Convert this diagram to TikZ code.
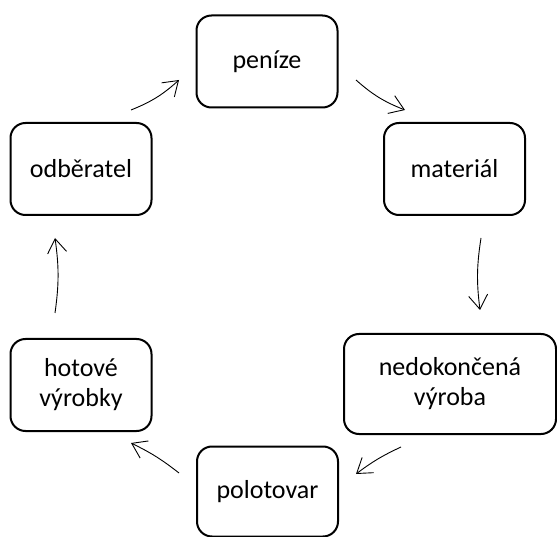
\documentclass[tikz,border=0pt]{standalone}
\usepackage{fontspec}
\setmainfont{Carlito}
\usepackage{tikz}
\usetikzlibrary{arrows.meta}

\begin{document}
\begin{tikzpicture}[
  x=1pt, y=-1pt,
  every node/.style={font=\fontsize{26}{30}\selectfont},
  stav/.style={draw, line width=2pt, rounded corners=15pt, align=center, inner sep=0pt,
    minimum width=141pt, minimum height=92pt},
  tok/.style={-{Straight Barb[length=14pt, width=19pt]}, line width=0.9pt}
]

\useasboundingbox (0,0) rectangle (557,537);

\node[stav] (penize) at (267,61.5) {peníze};
\node[stav] (material) at (454.5,169) {materiál};
\node[stav, minimum width=212pt, minimum height=100pt] (nedokoncena) at (450,384) {nedokončená\\výroba};
\node[stav, minimum height=90pt] (polotovar) at (267.5,491.5) {polotovar};
\node[stav] (hotove) at (81,385) {hotové\\výrobky};
\node[stav] (odberatel) at (81,169) {odběratel};

% konce sipek (mezi boxy)
\coordinate (odb-out) at (131,110);
\coordinate (pen-in) at (179,80);
\coordinate (pen-out) at (356,80);
\coordinate (mat-in) at (405,110);
\coordinate (mat-out) at (481,238);
\coordinate (ned-in) at (480,310);
\coordinate (ned-out) at (401,447);
\coordinate (pol-in) at (356,474);
\coordinate (pol-out) at (179,473);
\coordinate (hot-in) at (131,443);
\coordinate (hot-out) at (55,313);
\coordinate (odb-in) at (55,238);

\draw[tok] (odb-out) to[bend right=10] (pen-in);
\draw[tok] (pen-out) to[bend right=10] (mat-in);
\draw[tok] (mat-out) to[bend right=8] (ned-in);
\draw[tok] (ned-out) to[bend right=6] (pol-in);
\draw[tok] (pol-out) to[bend right=6] (hot-in);
\draw[tok] (hot-out) to[bend right=8] (odb-in);

\end{tikzpicture}
\end{document}
